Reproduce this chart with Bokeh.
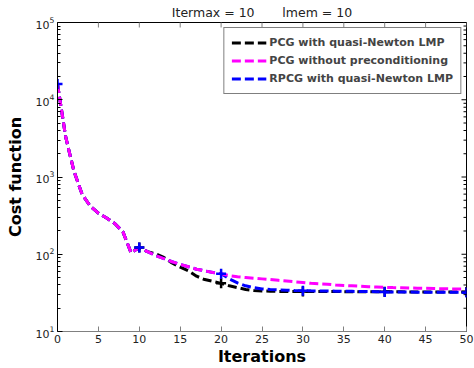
import math
from bokeh.plotting import figure
from bokeh.models import FixedTicker, Legend, LegendItem
from bokeh.embed import file_html
from bokeh.resources import INLINE

# ---- data ----
iters = list(range(0, 51))
pcg_noprec = [16000, 3300, 1200, 600, 420, 340, 295, 250, 195, 104,
              122, 108, 96, 88, 80, 74, 69, 64, 61, 58,
              56, 53, 51, 50, 49, 48, 47, 46, 45, 44,
              43, 42, 41.5, 41, 40, 39.5, 39, 38.5, 38, 37.7,
              37.3, 37, 36.8, 36.6, 36.4, 36.2, 36, 35.8, 35.6, 35.5, 35.4]
pcg_lmp = [16000, 3300, 1200, 600, 420, 340, 295, 250, 195, 104,
           122, 108, 101, 91, 77, 68, 61, 52, 47, 44.5,
           42, 39, 37, 35, 34, 33.5, 33.2, 33, 33, 33,
           33, 33, 33, 32.9, 32.9, 32.8, 32.8, 32.7, 32.7, 32.7,
           32.6, 32.6, 32.6, 32.5, 32.5, 32.5, 32.5, 32.5, 32.5, 32.5, 32.5]
rpcg_lmp = [16000, 3300, 1200, 600, 420, 340, 295, 250, 195, 104,
            122, 108, 96, 88, 80, 74, 69, 64, 61, 58,
            56, 48, 42.5, 39, 37, 35.5, 35, 34.6, 34.3, 34,
            33.8, 33.6, 33.5, 33.4, 33.3, 33.2, 33.1, 33, 32.9, 32.8,
            32.5, 32.5, 32.4, 32.4, 32.3, 32.3, 32.2, 32.2, 32.1, 32.1, 32]
outer_iters = [0, 10, 20, 30, 40, 50]

x_ticks = [0, 5, 10, 15, 20, 25, 30, 35, 40, 45, 50]
y_ticks = [10, 100, 1000, 10000, 100000]
y_minor = [m * d for d in [10, 100, 1000, 10000] for m in range(2, 10)]

title_text = "Itermax = 10" + "\u00a0" * 7 + "lmem = 10"

FONT = "DejaVu Sans"
X0, X1, Y0, Y1 = 0, 50, 10, 100000
DASH = "9 4"

p = figure(width=474, height=368, output_backend="svg", toolbar_location=None,
           y_axis_type="log", x_range=(X0, X1), y_range=(Y0, Y1),
           min_border_left=57, min_border_right=8, min_border_top=18,
           min_border_bottom=36, background_fill_color="white",
           title=title_text)
p.title.text_font = FONT
p.title.text_font_size = "12.5px"
p.title.text_font_style = "normal"
p.title.text_color = "#222222"
p.title.align = "center"
p.title.standoff = 5
p.xgrid.visible = False
p.ygrid.visible = False
p.outline_line_color = "black"
p.outline_line_width = 1

# lines
r_black = p.line(iters, pcg_lmp, line_color="black", line_width=3, line_dash=DASH)
r_blue = p.line(iters, rpcg_lmp, line_color="#0000ff", line_width=3, line_dash=DASH)
r_mag = p.line(iters, pcg_noprec, line_color="#ff00ff", line_width=3, line_dash=DASH)
p.scatter(outer_iters[1:], [pcg_lmp[i] for i in outer_iters[1:]], marker="cross",
          size=10, line_color="black", line_width=2.5)
p.scatter(outer_iters, [rpcg_lmp[i] for i in outer_iters], marker="cross",
          size=10, line_color="#0000ff", line_width=2.5)

# mirror ticks on top and right (clipped to the frame -> inward ticks)
p.scatter(x_ticks, [Y1] * len(x_ticks), marker="dash", angle=math.pi / 2, size=10,
          line_color="#808080", line_width=1)
p.scatter([X1] * len(y_ticks), y_ticks, marker="dash", size=10,
          line_color="black", line_width=1)
p.scatter([X1] * len(y_minor), y_minor, marker="dash", size=6,
          line_color="black", line_width=1)

# axes
xax = p.xaxis[0]
xax.ticker = FixedTicker(ticks=x_ticks)
yax = p.yaxis[0]
yax.ticker = FixedTicker(ticks=y_ticks, minor_ticks=y_minor)
for ax in (xax, yax):
    ax.major_tick_in = 5
    ax.major_tick_out = 0
    ax.minor_tick_in = 3
    ax.minor_tick_out = 0
    ax.major_label_text_font = FONT
    ax.major_label_text_font_size = "11px"
    ax.major_label_text_color = "#222222"
    ax.axis_label_text_font = FONT
    ax.axis_label_text_font_style = "bold"
    ax.axis_label_text_font_size = "16px"
    ax.axis_label_text_color = "black"
xax.axis_label = "Iterations"
xax.major_label_standoff = 3
xax.axis_label_standoff = 1
xax.axis_line_color = "#808080"
xax.major_tick_line_color = "#808080"
yax.axis_label = "Cost function"
yax.major_label_standoff = 3
yax.axis_label_standoff = 8
yax.axis_line_color = "black"

legend = Legend(items=[
    LegendItem(label="PCG with quasi-Newton LMP", renderers=[r_black]),
    LegendItem(label="PCG without preconditioning", renderers=[r_mag]),
    LegendItem(label="RPCG with quasi-Newton LMP", renderers=[r_blue]),
], location="top_right")
legend.label_text_font = FONT
legend.label_text_font_style = "bold"
legend.label_text_font_size = "11px"
legend.border_line_color = "black"
legend.border_line_width = 1
legend.glyph_width = 35
legend.glyph_height = 15
legend.label_height = 15
legend.spacing = 3
legend.padding = 7
legend.margin = 5
legend.label_standoff = 3
p.add_layout(legend, "center")

open("out.html", "w").write(file_html(p, INLINE))
